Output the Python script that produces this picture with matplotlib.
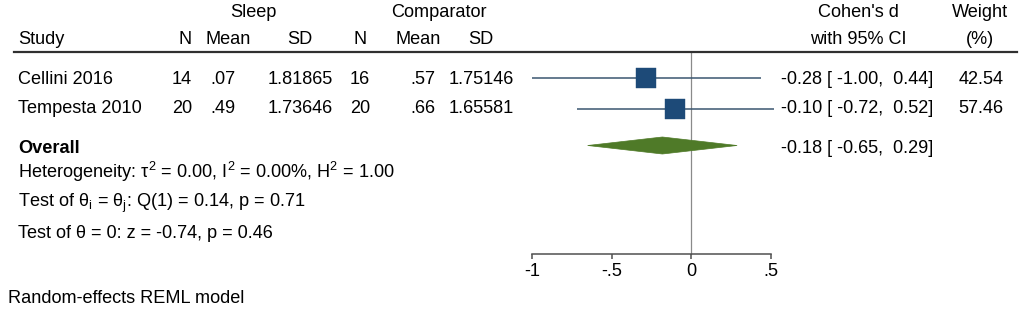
import matplotlib
matplotlib.use("Agg")
import matplotlib.pyplot as plt
from matplotlib.patches import Polygon

plt.rcParams['font.family'] = ['Liberation Sans', 'DejaVu Sans']
plt.rcParams['mathtext.fontset'] = 'custom'
plt.rcParams['mathtext.rm'] = 'Liberation Sans'
plt.rcParams['mathtext.it'] = 'Liberation Sans:italic'
plt.rcParams['mathtext.bf'] = 'Liberation Sans:bold'

# ---------------- data ----------------
studies = ["Cellini 2016", "Tempesta 2010"]
n_sleep = [14, 20]
mean_sleep = [0.07, 0.49]
sd_sleep = [1.81865, 1.73646]
n_comp = [16, 20]
mean_comp = [0.57, 0.66]
sd_comp = [1.75146, 1.65581]
es = [-0.28, -0.10]
ci_lo = [-1.00, -0.72]
ci_hi = [0.44, 0.52]
weights = [42.54, 57.46]
overall_es = -0.18
overall_lo = -0.65
overall_hi = 0.29
tick_vals = [-1, -0.5, 0, 0.5]
tick_labels = ["-1", "-.5", "0", ".5"]
heterogeneity = r"Heterogeneity: τ$^{\mathregular{2}}$ = 0.00, I$^{\mathregular{2}}$ = 0.00%, H$^{\mathregular{2}}$ = 1.00"
test_ij = r"Test of θ$_{\mathregular{i}}$ = θ$_{\mathregular{j}}$: Q(1) = 0.14, p = 0.71"
test_0 = "Test of \u03b8 = 0: z = -0.74, p = 0.46"
model_note = "Random-effects REML model"

# ---------------- layout ----------------
W, H = 1021, 321
fig = plt.figure(figsize=(W / 100, H / 100), dpi=100)
FS = 13.1
X0 = 691.0      # pixel position of d = 0
PPU = 159.0     # pixels per unit of d

ax = fig.add_axes([0, 0, 1, 1])
ax.set_xlim((0 - X0) / PPU, (W - X0) / PPU)
ax.set_ylim(H, 0)
ax.patch.set_alpha(0)
for s in ['top', 'left', 'right']:
    ax.spines[s].set_visible(False)
ax.spines['bottom'].set_position(('data', 253.5))
ax.spines['bottom'].set_bounds(tick_vals[0], tick_vals[-1])
ax.spines['bottom'].set_color('#505050')
ax.spines['bottom'].set_linewidth(1.1)
ax.set_yticks([])
ax.set_xticks(tick_vals)
ax.set_xticklabels(tick_labels, fontsize=FS)
ax.tick_params(axis='x', direction='out', length=3.6, width=1.1,
               color='#505050', pad=3.6, labelcolor='black')


def fx(px):
    return px / W


def fy(py):
    return 1 - py / H


def t(x, y, s, ha='left', **kw):
    fig.text(fx(x), fy(y), s, ha=ha, va='baseline', fontsize=FS, color='black', **kw)


# headers
t(253, 17, "Sleep", ha='center')
t(439, 17, "Comparator", ha='center')
t(858, 17, "Cohen's d", ha='center')
t(980, 17, "Weight", ha='center')
t(18, 44, "Study")
t(192, 44, "N", ha='right')
t(228, 44, "Mean", ha='center')
t(300, 44, "SD", ha='center')
t(367, 44, "N", ha='right')
t(418, 44, "Mean", ha='center')
t(481, 44, "SD", ha='center')
t(858, 44, "with 95% CI", ha='center')
t(980, 44, "(%)", ha='center')

# header rule
fig.add_artist(plt.Line2D([fx(14), fx(1017)], [fy(52), fy(52)],
                          color='#303030', lw=1.6))

# study rows
row_base = [84, 113]
row_mark = [77.5, 108.5]


def fmt_mean(v):
    s = f"{v:.2f}"
    return s[1:] if s.startswith("0") else s


for i in range(len(studies)):
    b = row_base[i]
    t(18, b, studies[i])
    t(192, b, str(n_sleep[i]), ha='right')
    t(223, b, fmt_mean(mean_sleep[i]), ha='center')
    t(300, b, f"{sd_sleep[i]:.5f}", ha='center')
    t(370, b, str(n_comp[i]), ha='right')
    t(423, b, fmt_mean(mean_comp[i]), ha='center')
    t(481, b, f"{sd_comp[i]:.5f}", ha='center')
    t(857, b, f"{es[i]:5.2f} [{ci_lo[i]:6.2f}, {ci_hi[i]:5.2f}]", ha='center')
    t(981, b, f"{weights[i]:.2f}", ha='center')
    ax.plot([ci_lo[i], ci_hi[i]], [row_mark[i], row_mark[i]],
            color='#3a5670', lw=1.1, solid_capstyle='butt', zorder=2)
    ax.scatter([es[i]], [row_mark[i]], marker='s', s=205,
               color='#1d4a78', edgecolor='#1d4a78', linewidths=0.3, zorder=3)

# overall
t(18, 153, "Overall", fontweight='bold')
t(857, 153, f"{overall_es:5.2f} [{overall_lo:6.2f}, {overall_hi:5.2f}]", ha='center')
oy = 145.5
hh = 8.5
diamond = Polygon([[overall_lo, oy], [overall_es, oy - hh],
                   [overall_hi, oy], [overall_es, oy + hh]],
                  closed=True, facecolor='#4f7a28', edgecolor='#4f7a28',
                  lw=0.5, zorder=3)
ax.add_patch(diamond)

# zero line
ax.plot([0, 0], [52, 253.5], color='#8a8a8a', lw=0.9, zorder=1)

# statistics
t(18, 178, heterogeneity)
t(18, 207, test_ij)
t(18, 238, test_0)
t(8, 303, model_note)

fig.savefig("out.png", dpi=100, facecolor='white')
